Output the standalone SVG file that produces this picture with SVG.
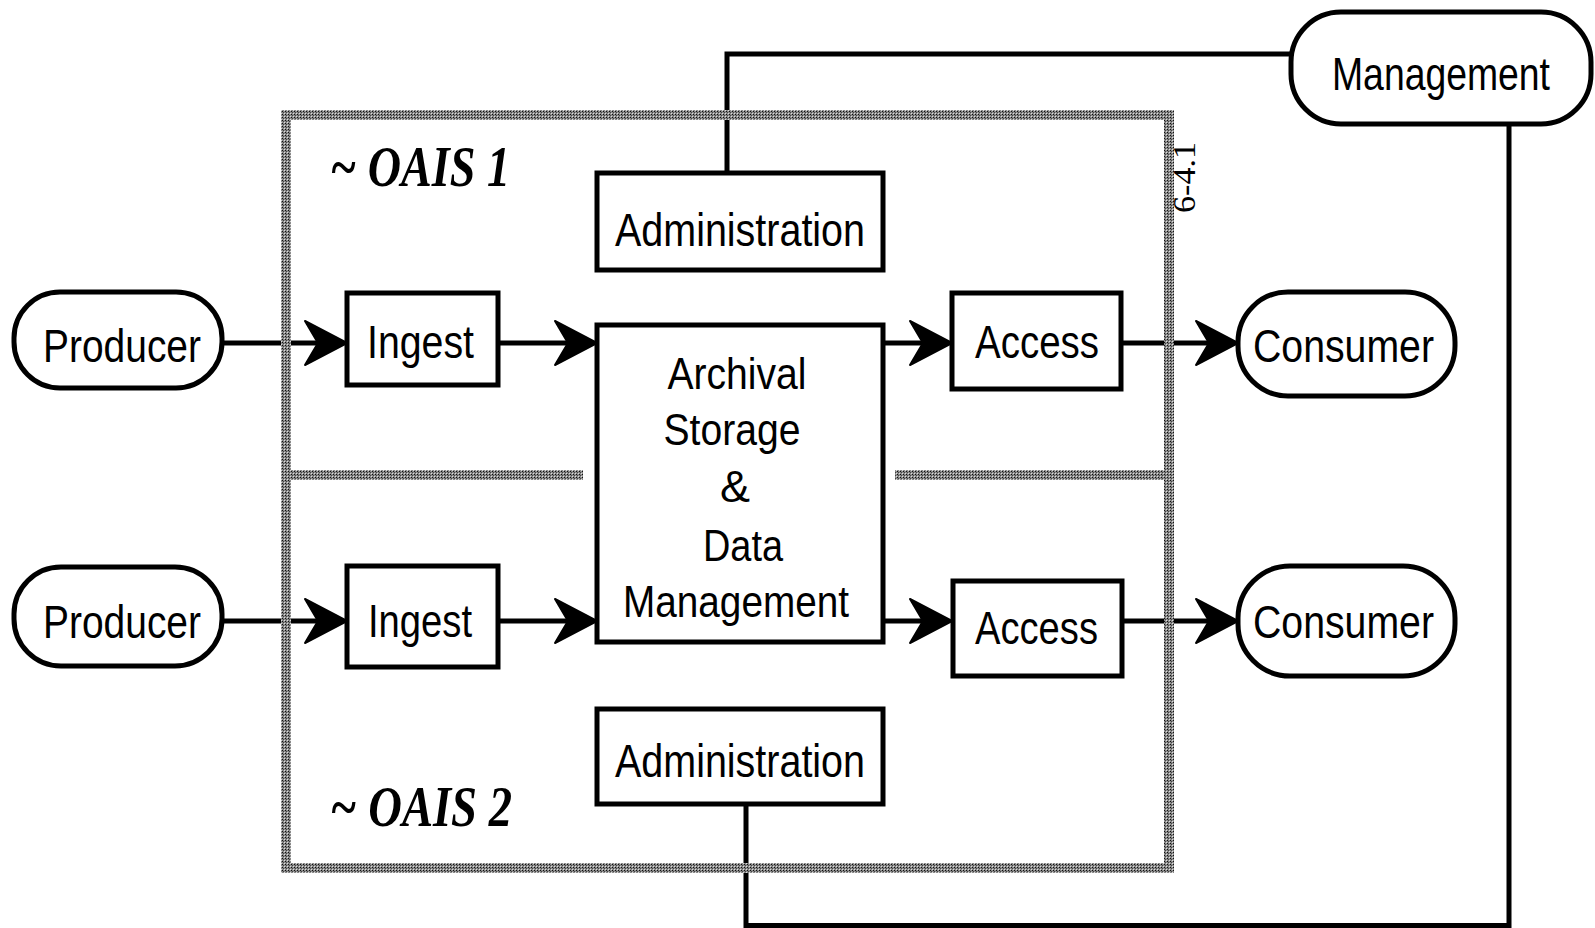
<svg xmlns="http://www.w3.org/2000/svg" width="1595" height="928" viewBox="0 0 1595 928">
<style>
.box{fill:#fff;stroke:#000;stroke-width:5}
.term{fill:#fff;stroke:#000;stroke-width:5}
.lbl{font-family:"Liberation Sans",Arial,sans-serif;font-size:47px;fill:#000}
.arch{font-family:"Liberation Sans",Arial,sans-serif;font-size:45px;fill:#000;text-anchor:middle}
.oais{font-family:"Liberation Serif","Times New Roman",serif;font-size:56px;font-weight:bold;font-style:italic;fill:#000}
.conn{fill:none;stroke:#000;stroke-width:5}
.gray{fill:none;stroke:url(#dither);stroke-width:10}
</style>
<defs>
<pattern id="dither" width="3" height="3" patternUnits="userSpaceOnUse">
<rect width="3" height="3" fill="#8a8a8a"/>
<rect x="0" y="0" width="1" height="1" fill="#111"/>
<rect x="1" y="1" width="1" height="1" fill="#444"/>
<rect x="2" y="2" width="1" height="1" fill="#ddd"/>
</pattern>
<path id="ah" d="M0,0 L-42,-22 L-29,0 L-42,22 Z" fill="#000" stroke="#000" stroke-width="2" stroke-linejoin="round"/>
</defs>
<rect width="1595" height="928" fill="#fff"/>

<g id="connectors">
<path class="conn" d="M222,343 H330"/>
<use href="#ah" x="347" y="343"/>
<path class="conn" d="M498,343 H580"/>
<use href="#ah" x="597" y="343"/>
<path class="conn" d="M883,343 H935"/>
<use href="#ah" x="952" y="343"/>
<path class="conn" d="M1121,343 H1221"/>
<use href="#ah" x="1238" y="343"/>
<path class="conn" d="M222,621 H330"/>
<use href="#ah" x="347" y="621"/>
<path class="conn" d="M498,621 H580"/>
<use href="#ah" x="597" y="621"/>
<path class="conn" d="M883,621 H935"/>
<use href="#ah" x="952" y="621"/>
<path class="conn" d="M1121,621 H1221"/>
<use href="#ah" x="1238" y="621"/>
<path class="conn" d="M727,173 V54 H1291"/>
<path class="conn" d="M1509,124 V925.5 H746 V804"/>
</g>

<g id="oais-boundary">
<rect class="gray" x="286" y="115" width="883" height="753"/>
<path class="gray" d="M291,475 H583 M895,475 H1165"/>
<text class="oais" x="330" y="186" textLength="180" lengthAdjust="spacingAndGlyphs">~ OAIS 1</text>
<text class="oais" x="330" y="826" textLength="182" lengthAdjust="spacingAndGlyphs">~ OAIS 2</text>
<text transform="translate(1195,213) rotate(-90)" font-family="Liberation Serif, serif" font-size="31" textLength="71" lengthAdjust="spacingAndGlyphs">6-4.1</text>
</g>

<g id="management">
<rect class="term" x="1291" y="12" width="300" height="112" rx="50"/>
<text class="lbl" x="1441" y="90" text-anchor="middle" font-size="46" textLength="218" lengthAdjust="spacingAndGlyphs">Management</text>
</g>

<g id="admin1">
<rect class="box" x="597" y="173" width="286" height="97"/>
<text class="lbl" x="615" y="246" textLength="250" lengthAdjust="spacingAndGlyphs">Administration</text>
</g>

<g id="producer1">
<rect class="term" x="14" y="292" width="208" height="96" rx="46"/>
<text class="lbl" x="43" y="362" textLength="158" lengthAdjust="spacingAndGlyphs">Producer</text>
</g>
<g id="ingest1">
<rect class="box" x="347" y="293" width="151" height="92"/>
<text class="lbl" x="367" y="358" textLength="107" lengthAdjust="spacingAndGlyphs">Ingest</text>
</g>
<g id="archival">
<rect class="box" x="597" y="325" width="286" height="317"/>
<text class="arch" x="737" y="389" textLength="139" lengthAdjust="spacingAndGlyphs">Archival</text>
<text class="arch" x="732" y="445" textLength="137" lengthAdjust="spacingAndGlyphs">Storage</text>
<text class="arch" x="735" y="502">&amp;</text>
<text class="arch" x="743" y="561" textLength="80" lengthAdjust="spacingAndGlyphs">Data</text>
<text class="arch" x="736" y="617" textLength="226" lengthAdjust="spacingAndGlyphs">Management</text>
</g>
<g id="access1">
<rect class="box" x="952" y="293" width="169" height="96"/>
<text class="lbl" x="975" y="358" textLength="124" lengthAdjust="spacingAndGlyphs">Access</text>
</g>
<g id="consumer1">
<rect class="term" x="1238" y="292" width="217" height="104" rx="50"/>
<text class="lbl" x="1253" y="362" textLength="181" lengthAdjust="spacingAndGlyphs">Consumer</text>
</g>

<g id="producer2">
<rect class="term" x="14" y="567" width="208" height="99" rx="47"/>
<text class="lbl" x="43" y="638" textLength="158" lengthAdjust="spacingAndGlyphs">Producer</text>
</g>
<g id="ingest2">
<rect class="box" x="347" y="566" width="151" height="101"/>
<text class="lbl" x="368" y="637" textLength="104" lengthAdjust="spacingAndGlyphs">Ingest</text>
</g>
<g id="access2">
<rect class="box" x="953" y="581" width="169" height="95"/>
<text class="lbl" x="975" y="644" textLength="123" lengthAdjust="spacingAndGlyphs">Access</text>
</g>
<g id="consumer2">
<rect class="term" x="1238" y="566" width="217" height="110" rx="52"/>
<text class="lbl" x="1253" y="638" textLength="181" lengthAdjust="spacingAndGlyphs">Consumer</text>
</g>

<g id="admin2">
<rect class="box" x="597" y="709" width="286" height="95"/>
<text class="lbl" x="615" y="777" textLength="250" lengthAdjust="spacingAndGlyphs">Administration</text>
</g>
</svg>
